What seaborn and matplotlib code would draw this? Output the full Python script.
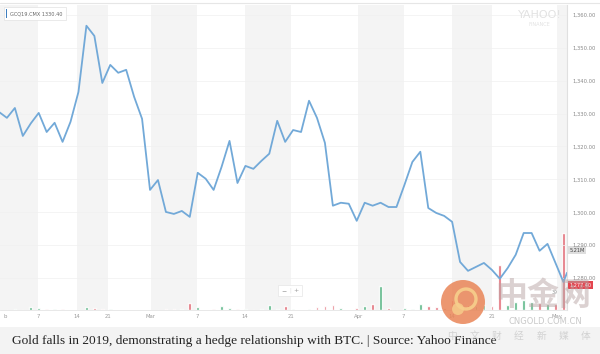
import numpy as np
import matplotlib
matplotlib.use('Agg')
import matplotlib.pyplot as plt
import seaborn as sns
from matplotlib.patches import Rectangle, Ellipse

sns.set_style('white')
plt.rcParams['font.family'] = ['DejaVu Sans']

# ---------------------------------------------------------
# data (GCQ19, trading-day index)
# ---------------------------------------------------------
price = [1330.5, 1328.7, 1331.7, 1323.2, 1327.0, 1330.2, 1324.4, 1327.2, 1321.4, 1327.5,
         1336.6, 1356.7, 1353.6, 1339.3, 1344.8, 1342.4, 1343.3, 1335.1, 1328.4, 1306.8,
         1309.8, 1300.1, 1299.5, 1300.4, 1298.6, 1312.0, 1310.2, 1306.8, 1313.8, 1321.7,
         1308.9, 1314.1, 1313.2, 1315.6, 1317.8, 1327.8, 1321.4, 1325.0, 1324.4, 1333.9,
         1328.7, 1321.1, 1302.0, 1302.9, 1302.6, 1297.4, 1302.9, 1302.0, 1302.9, 1301.6,
         1301.6, 1308.3, 1315.3, 1318.4, 1301.3, 1299.8, 1298.9, 1297.1, 1284.9, 1282.2,
         1283.4, 1284.6, 1282.5, 1279.8, 1283.1, 1287.1, 1293.7, 1293.7, 1288.3, 1290.4,
         1284.6, 1278.8, 1281.6]
days = list(range(72)) + [71.45]   # last point is the open session

volume = [0.04, 0.04, 0.09, 0.04, 0.26, 0.17, 0.09, 0.09, 0.09, 0.04,
          0.04, 0.26, 0.17, 0.09, 0.09, 0.04, 0.04, 0.04, 0.04, 0.04,
          0.04, 0.09, 0.09, 0.09, 0.61, 0.26, 0.04, 0.09, 0.35, 0.17,
          0.09, 0.09, 0.04, 0.09, 0.43, 0.09, 0.35, 0.09, 0.04, 0.09,
          0.26, 0.35, 0.43, 0.17, 0.04, 0.17, 0.35, 0.52, 2.08, 0.17,
          0.04, 0.17, 0.09, 0.52, 0.35, 0.26, 0.17, 0.87, 0.52, 0.43,
          0.35, 0.43, 0.35, 3.91, 0.43, 0.69, 0.87, 0.69, 0.61, 0.52,
          0.52, 6.68]

tick_pos = [0.76, 4.9, 9.81, 13.7, 19.1, 24.9, 30.9, 36.7, 45.2, 50.9, 57.0, 62.0, 70.2]
tick_labels = ['b', '7', '14', '21', 'Mar', '7', '14', '21', 'Apr', '7', '14', '21', 'May']
shade_spans = [(0.13, 4.9), (9.81, 13.7), (19.1, 24.9), (30.9, 36.7),
               (45.2, 50.9), (57.0, 62.0), (70.2, 71.45)]
price_ticks = [1280, 1290, 1300, 1310, 1320, 1330, 1340, 1350, 1360]

LINE = '#72a9d8'
UP, DOWN = '#4fb27f', '#e2646f'

W, H = 600, 354
def fx(px): return px / W
def fy(py): return 1 - py / H

fig = plt.figure(figsize=(6, 3.54), dpi=100)
rect = [0, fy(310), fx(567), fy(5) - fy(310)]

# base axes: week shading + volume bars
axv = fig.add_axes(rect)
for a, b in shade_spans:
    axv.axvspan(a, b, color='#f4f4f4', lw=0, zorder=0)
vcol = ['#bbbbbb'] + [UP if price[i] >= price[i - 1] else DOWN for i in range(1, len(volume))]
axv.bar(days[:len(volume)], volume, width=0.34, color=vcol, alpha=0.9, zorder=2)
axv.set_ylim(0, 26.5)
axv.set_xlim(0.13, 71.45)
axv.set_yticks([])
axv.set_xticks(tick_pos)
axv.set_xticklabels(tick_labels)
axv.tick_params(axis='x', length=0, pad=3, labelsize=3.8, labelcolor='#9a9a9a')
for s in axv.spines.values():
    s.set_visible(False)
axv.spines['bottom'].set_visible(True)
axv.spines['bottom'].set_color('#e4e4e4')
axv.spines['bottom'].set_linewidth(0.6)
axv.spines['right'].set_visible(True)
axv.spines['right'].set_color('#e0e0e0')
axv.spines['right'].set_linewidth(0.8)

# price axes on top
ax = fig.add_axes(rect, sharex=axv)
ax.patch.set_alpha(0)
for t in price_ticks:
    ax.axhline(t, color='#f0f0f0', lw=0.5, zorder=0)
sns.lineplot(x=days, y=price, color=LINE, lw=1.3, ax=ax, zorder=3)
ax.set_ylim(1270.3, 1363)
ax.yaxis.tick_right()
ax.set_yticks(price_ticks)
ax.set_yticklabels([f'{t:,.2f}' for t in price_ticks])
ax.tick_params(axis='y', length=0, pad=4, labelsize=3.8, labelcolor='#8a8a8a')
ax.tick_params(axis='x', bottom=False, labelbottom=False)
ax.set_xlabel('')
ax.set_ylabel('')
for s in ax.spines.values():
    s.set_visible(False)

# right-side tags
ax.text(1.004, 1277.9, '1,277.40', transform=ax.get_yaxis_transform(), fontsize=3.6,
        color='white', va='center', ha='left',
        bbox=dict(boxstyle='square,pad=0.25', fc='#e4454f', ec='none'))
axv.text(1.004, 5.21, '5.21M', transform=axv.get_yaxis_transform(), fontsize=3.6,
         color='#444444', va='center', ha='left',
         bbox=dict(boxstyle='square,pad=0.25', fc='#dedede', ec='none'))
fig.text(fx(555), fy(292), '39', fontsize=3.4, color='#999999', ha='center', va='center')

# top border
fig.add_artist(plt.Line2D([0, 1], [fy(3), fy(3)], color='#e6e6e6', lw=0.8))

# legend chip
fig.patches.append(Rectangle((fx(4), fy(20)), fx(62), fy(7) - fy(20), transform=fig.transFigure,
                             fc='white', ec='#e2e2e2', lw=0.5))
fig.patches.append(Rectangle((fx(6), fy(18)), fx(1.3), fy(9) - fy(18), transform=fig.transFigure,
                             fc='#3f7fbf', ec='none'))
fig.text(fx(10), fy(13.5), 'GCQ19.CMX 1330.40', fontsize=3.6, color='#666666', va='center')

# yahoo watermark
fig.text(fx(540), fy(15), 'YAHOO!', fontsize=8, color='#e2e2e2', ha='center', va='center')
fig.text(fx(539), fy(25), 'FINANCE', fontsize=3.6, color='#e2e2e2', ha='center', va='center')

# zoom buttons
fig.patches.append(Rectangle((fx(278), fy(296)), fx(24), fy(285) - fy(296), transform=fig.transFigure,
                             fc='white', ec='#e6e6e6', lw=0.5))
fig.text(fx(284), fy(290.5), '−', fontsize=4.5, color='#999999', ha='center', va='center')
fig.text(fx(290), fy(290.5), '|', fontsize=3.5, color='#dddddd', ha='center', va='center')
fig.text(fx(296), fy(290.5), '+', fontsize=4.5, color='#999999', ha='center', va='center')

# caption band
fig.patches.append(Rectangle((0, 0), 1, fy(327), transform=fig.transFigure, fc='#f3f3f3', ec='none'))
fig.text(fx(12), fy(341), 'Gold falls in 2019, demonstrating a hedge relationship with BTC. | Source: Yahoo Finance',
         fontsize=9.6, family='Liberation Serif', color='#222222', va='center', ha='left')

# cngold watermark
cjk = ['Noto Sans CJK SC', 'DejaVu Sans']
fig.patches.append(Ellipse((fx(463), fy(302)), 44 / W, 44 / H, transform=fig.transFigure,
                           fc='#e98557', ec='none', alpha=0.85))
fig.patches.append(Ellipse((fx(466), fy(299)), 20 / W, 20 / H, transform=fig.transFigure,
                           fc='none', ec='#f7cf8c', lw=2.4, alpha=0.9))
fig.patches.append(Ellipse((fx(458), fy(309)), 12 / W, 12 / H, transform=fig.transFigure,
                           fc='#f7cf8c', ec='none', alpha=0.8))
fig.text(fx(543), fy(296), '中金网', fontsize=23, family=cjk, color='#b9a4a4',
         alpha=0.5, ha='center', va='center', fontweight='bold')
fig.text(fx(545), fy(322), 'CNGOLD.COM.CN', fontsize=6, color='#c9c9c9', ha='center', va='center')
for i, ch in enumerate('中文财经新媒体'):
    fig.text(fx(452 + i * 22.3), fy(336), ch, fontsize=7, family=cjk, color='#d2d2d2',
             ha='center', va='center')

fig.savefig('out.png', dpi=100)
